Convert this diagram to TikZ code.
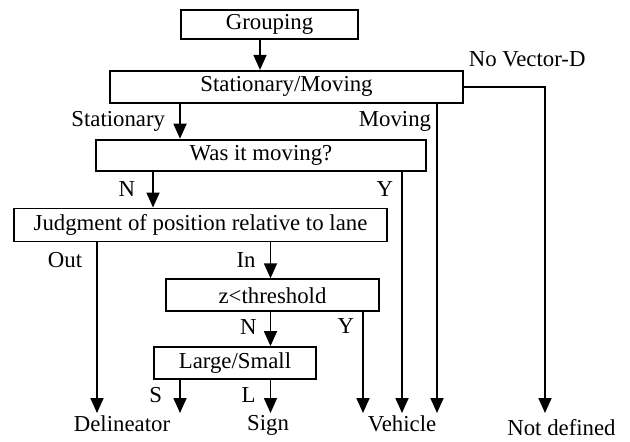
\documentclass[tikz,border=0pt]{standalone}
\usepackage{fontspec}
\setmainfont{Liberation Serif}
\usetikzlibrary{arrows.meta, positioning}
\newcommand{\fsz}{\fontsize{22.8}{27}\selectfont}
\tikzset{
  caja/.style={rectangle, draw, line width=1.8pt, inner sep=0pt,
    minimum height=32pt, align=center, font=\fsz},
  etiq/.style={font=\fsz, inner sep=0pt},
  salida/.style={font=\fsz, inner sep=2pt, anchor=north},
  flecha/.style={-{Triangle[length=15pt,width=13pt]}, line width=1.8pt}
}
\begin{document}
\begin{tikzpicture}[x=1pt, y=-1pt]
  \useasboundingbox (0,0) rectangle (630,442);
  % cajas
  \node[caja, minimum width=177pt, minimum height=29pt] (group) at (269.5,24.5) {Grouping};
  \node[caja, minimum width=353pt, below=30pt of group, xshift=17pt] (sm) {Stationary/Moving};
  \node[caja, minimum width=330pt, minimum height=31pt, below=35pt of sm, xshift=-25.5pt] (wasmov) {Was it moving?};
  \node[caja, minimum width=373pt, minimum height=33pt, below=36pt of wasmov, xshift=-60.5pt] (judge) {Judgment of position relative to lane};
  \node[caja, minimum width=213pt, below=36pt of judge, xshift=72pt] (zthr) {z\textless threshold};
  \node[caja, minimum width=162pt, below=34pt of zthr, xshift=-37.5pt] (lsm) {Large/Small};
  % resultados
  \node[salida] (delin) at (122,413) {Delineator};
  \node[salida] (sign) at (268,413) {Sign};
  \node[salida] (veh) at (402,413) {Vehicle};
  \node[salida, inner ysep=6pt] (nodef) at (561.5,413) {Not defined};
  % columnas
  \coordinate (cg) at (260,0);
  \coordinate (cst) at (180,0);
  \coordinate (cmv) at (437,0);
  \coordinate (cnv) at (545,0);
  \coordinate (cwn) at (153,0);
  \coordinate (cwy) at (402,0);
  \coordinate (cout) at (97,0);
  \coordinate (cin) at (270.5,0);
  \coordinate (czy) at (363,0);
  % flechas
  \draw[flecha] (group.south -| cg) -- (sm.north -| cg);
  \draw[flecha] (sm.south -| cst) -- node[etiq, left=14pt]{Stationary} (wasmov.north -| cst);
  \draw[flecha] (sm.south -| cmv) -- node[etiq, pos=0.057, left=5pt]{Moving} (veh.north -| cmv);
  \draw[flecha] (sm.east) -- node[etiq, pos=0, anchor=south west, xshift=4pt, yshift=19pt]{No Vector-D}
    (sm.east -| cnv) -- (nodef.north -| cnv);
  \draw[flecha] (wasmov.south -| cwn) -- node[etiq, left=17pt]{N} (judge.north -| cwn);
  \draw[flecha] (wasmov.south -| cwy) -- node[etiq, pos=0.074, left=8pt]{Y} (veh.north -| cwy);
  \draw[flecha] (judge.south -| cout) -- node[etiq, pos=0.103, left=14pt]{Out} (delin.north -| cout);
  \draw[flecha] (judge.south -| cin) -- node[etiq, left=14pt]{In} (zthr.north -| cin);
  \draw[flecha] (zthr.south -| cin) -- node[etiq, pos=0.45, left=13pt]{N} (lsm.north -| cin);
  \draw[flecha] (zthr.south -| czy) -- node[etiq, pos=0.14, left=8pt]{Y} (veh.north -| czy);
  \draw[flecha] (lsm.south -| cst) -- node[etiq, pos=0.45, left=17pt]{S} (delin.north -| cst);
  \draw[flecha] (lsm.south -| cin) -- node[etiq, pos=0.45, left=14pt]{L} (sign.north -| cin);
\end{tikzpicture}
\end{document}
